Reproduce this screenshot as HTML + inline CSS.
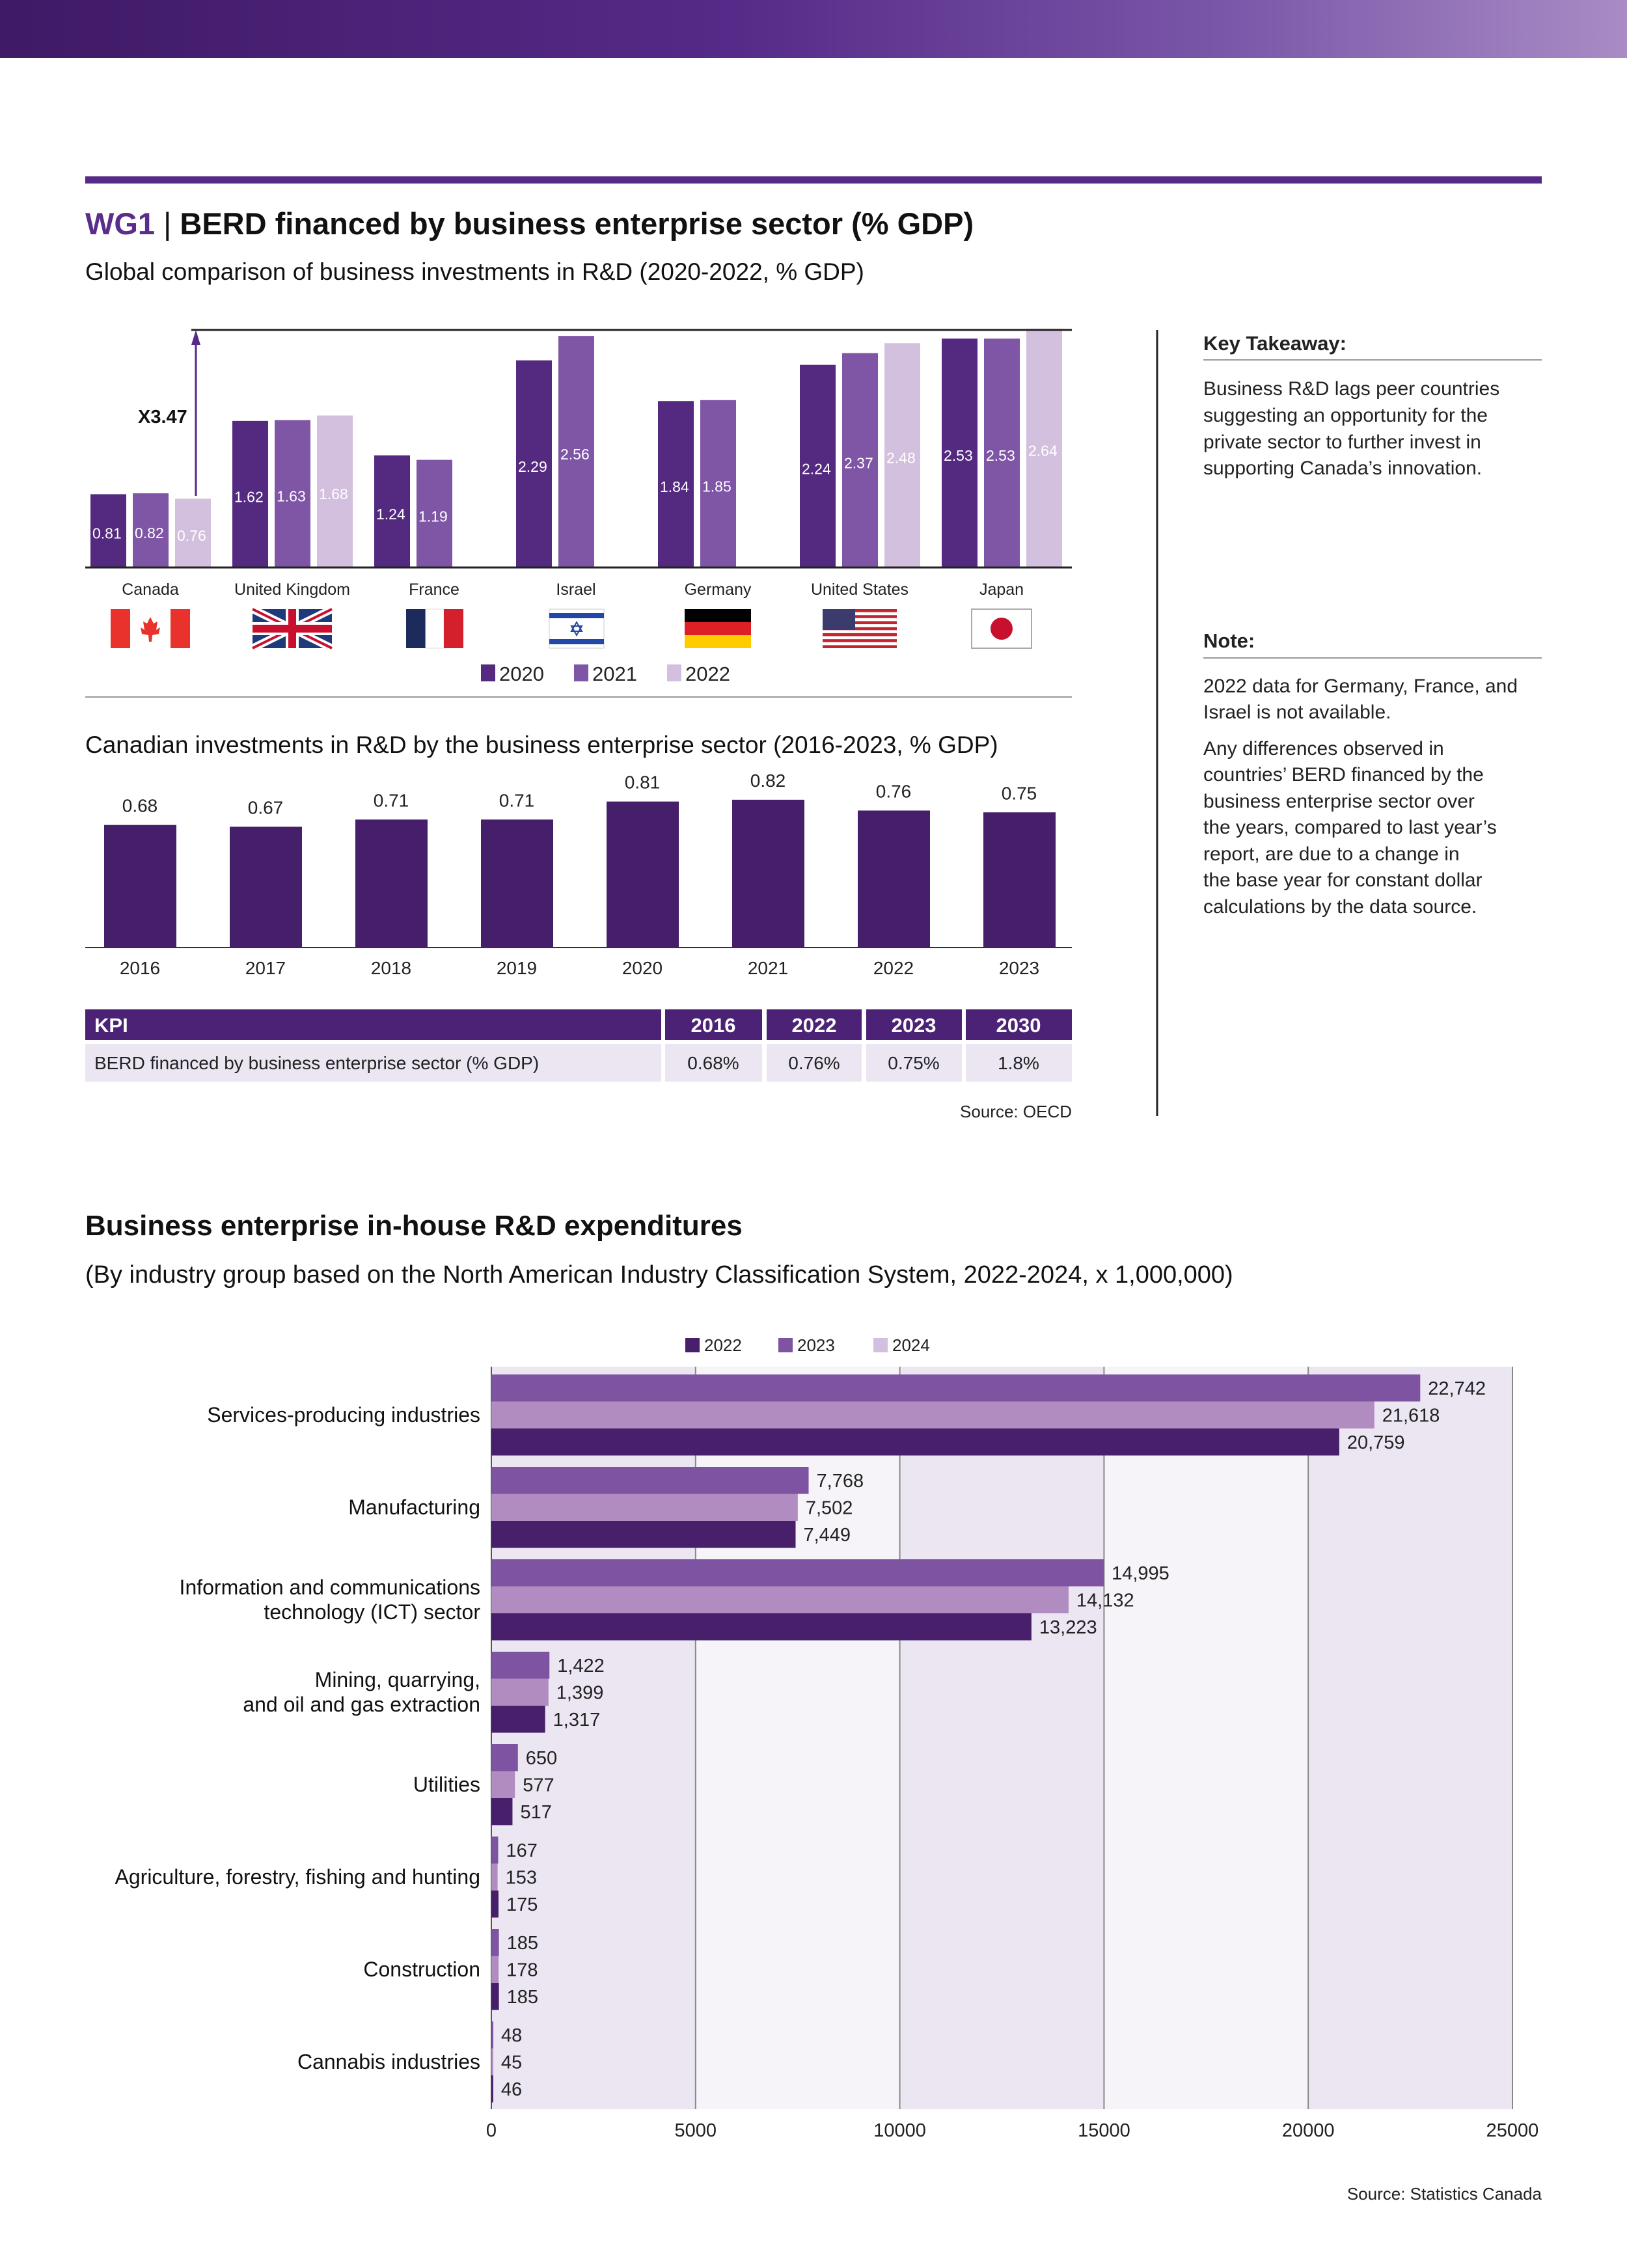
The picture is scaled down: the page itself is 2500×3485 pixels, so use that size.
<!DOCTYPE html>
<html><head><meta charset="utf-8"><style>
html,body{margin:0;padding:0;background:#fff;}
svg{display:block;font-family:"Liberation Sans",sans-serif;}
</style></head><body>
<svg id="s" width="2500" height="3485" viewBox="0 0 2500 3485" xmlns="http://www.w3.org/2000/svg">
<defs><linearGradient id="g" x1="0" x2="1" y1="0" y2="0">
<stop offset="0" stop-color="#3f1a66"/><stop offset="0.45" stop-color="#552a88"/><stop offset="0.75" stop-color="#7a56a8"/><stop offset="1" stop-color="#a98bc5"/></linearGradient></defs>
<rect x="0" y="0" width="2500" height="89" fill="url(#g)"/>
<rect x="131" y="271" width="2238" height="11" fill="#552a88"/>
<text x="131" y="360" font-size="47" font-weight="bold"><tspan fill="#5a2d8a">WG1</tspan><tspan fill="#111" font-weight="normal"> | </tspan><tspan fill="#111">BERD financed by business enterprise sector (% GDP)</tspan></text>
<text x="131" y="430" font-size="37" fill="#111">Global comparison of business investments in R&amp;D (2020-2022, % GDP)</text>
<g id="top"></g>
<line x1="131" y1="1071" x2="1647" y2="1071" stroke="#999" stroke-width="2"/>
<text x="131" y="1157" font-size="37" fill="#111">Canadian investments in R&amp;D by the business enterprise sector (2016-2023, % GDP)</text>
<g id="can"></g>
<g>
<rect x="131" y="1551" width="885" height="47" fill="#4b2275"/>
<rect x="1022" y="1551" width="149" height="47" fill="#4b2275"/>
<rect x="1178" y="1551" width="146" height="47" fill="#4b2275"/>
<rect x="1331" y="1551" width="147" height="47" fill="#4b2275"/>
<rect x="1484" y="1551" width="163" height="47" fill="#4b2275"/>
<text x="145" y="1586" font-size="31" font-weight="bold" fill="#fff">KPI</text>
<text x="1096" y="1586" font-size="31" font-weight="bold" fill="#fff" text-anchor="middle">2016</text>
<text x="1251" y="1586" font-size="31" font-weight="bold" fill="#fff" text-anchor="middle">2022</text>
<text x="1404" y="1586" font-size="31" font-weight="bold" fill="#fff" text-anchor="middle">2023</text>
<text x="1565" y="1586" font-size="31" font-weight="bold" fill="#fff" text-anchor="middle">2030</text>
<rect x="131" y="1604" width="885" height="58" fill="#ece6f2"/>
<rect x="1022" y="1604" width="149" height="58" fill="#ece6f2"/>
<rect x="1178" y="1604" width="146" height="58" fill="#ece6f2"/>
<rect x="1331" y="1604" width="147" height="58" fill="#ece6f2"/>
<rect x="1484" y="1604" width="163" height="58" fill="#ece6f2"/>
<text x="145" y="1643" font-size="28" fill="#222">BERD financed by business enterprise sector (% GDP)</text>
<text x="1096" y="1643" font-size="28" fill="#222" text-anchor="middle">0.68%</text>
<text x="1251" y="1643" font-size="28" fill="#222" text-anchor="middle">0.76%</text>
<text x="1404" y="1643" font-size="28" fill="#222" text-anchor="middle">0.75%</text>
<text x="1565" y="1643" font-size="28" fill="#222" text-anchor="middle">1.8%</text>
</g>
<text x="1647" y="1717" font-size="26" fill="#222" text-anchor="end">Source: OECD</text>
<line x1="1778" y1="507" x2="1778" y2="1715" stroke="#222" stroke-width="3"/>
<g font-size="30" fill="#222">
<text x="1849" y="538" font-weight="bold" font-size="31">Key Takeaway:</text>
<line x1="1849" y1="553" x2="2369" y2="553" stroke="#999" stroke-width="2"/>
<text x="1849" y="607">Business R&amp;D lags peer countries</text>
<text x="1849" y="648">suggesting an opportunity for the</text>
<text x="1849" y="689">private sector to further invest in</text>
<text x="1849" y="729">supporting Canada’s innovation.</text>
</g>
<g font-size="30" fill="#222">
<text x="1849" y="995" font-weight="bold" font-size="31">Note:</text>
<line x1="1849" y1="1011" x2="2369" y2="1011" stroke="#999" stroke-width="2"/>
<text x="1849" y="1064">2022 data for Germany, France, and</text>
<text x="1849" y="1104">Israel is not available.</text>
<text x="1849" y="1160">Any differences observed in</text>
<text x="1849" y="1200">countries’ BERD financed by the</text>
<text x="1849" y="1241">business enterprise sector over</text>
<text x="1849" y="1281">the years, compared to last year’s</text>
<text x="1849" y="1322">report, are due to a change in</text>
<text x="1849" y="1362">the base year for constant dollar</text>
<text x="1849" y="1403">calculations by the data source.</text>
</g>
<text x="131" y="1898" font-size="44" font-weight="bold" fill="#111">Business enterprise in-house R&amp;D expenditures</text>
<text x="131" y="1971" font-size="38" fill="#111">(By industry group based on the North American Industry Classification System, 2022-2024, x 1,000,000)</text>
<g id="ind"></g>
<text x="2369" y="3380" font-size="26" fill="#222" text-anchor="end">Source: Statistics Canada</text>
</svg>
<script>
// ---- Top chart data
const countries = ["Canada","United Kingdom","France","Israel","Germany","United States","Japan"];
const v2020 = [0.81,1.62,1.24,2.29,1.84,2.24,2.53];
const v2021 = [0.82,1.63,1.19,2.56,1.85,2.37,2.53];
const v2022 = [0.76,1.68,null,null,null,2.48,2.64];
// ---- Canada chart data
const canYears = ["2016","2017","2018","2019","2020","2021","2022","2023"];
const canVals = [0.68,0.67,0.71,0.71,0.81,0.82,0.76,0.75];
// ---- Industry chart data
const industries = ["Services-producing industries","Manufacturing","Information and communications|technology (ICT) sector","Mining, quarrying,|and oil and gas extraction","Utilities","Agriculture, forestry, fishing and hunting","Construction","Cannabis industries"];
const ind2024 = [22742,7768,14995,1422,650,167,185,48];
const ind2023 = [21618,7502,14132,1399,577,153,178,45];
const ind2022 = [20759,7449,13223,1317,517,175,185,46];
const indTicks = [0,5000,10000,15000,20000,25000];

const NS="http://www.w3.org/2000/svg";
function mk(parent,tag,attrs,txt){const e=document.createElementNS(NS,tag);for(const k in attrs)e.setAttribute(k,attrs[k]);if(txt!==undefined)e.textContent=txt;parent.appendChild(e);return e;}
function fmt(n){return n.toLocaleString('en-US');}

function drawFlag(g,c){
  const W=122,H=60;
  if(c==="Canada"){mk(g,'rect',{width:W,height:H,fill:'#fff'});mk(g,'rect',{width:30,height:H,fill:'#e8322b'});mk(g,'rect',{x:92,width:30,height:H,fill:'#e8322b'});mk(g,'polygon',{points:'61,12 66,22 72,19 70,32 76,28 74,38 64,40 63,50 59,50 58,40 48,38 46,28 52,32 50,19 56,22',fill:'#e8322b'});}
  else if(c==="United Kingdom"){mk(g,'rect',{width:W,height:H,fill:'#1f3a7a'});mk(g,'line',{x1:0,y1:0,x2:W,y2:H,stroke:'#fff','stroke-width':12});mk(g,'line',{x1:W,y1:0,x2:0,y2:H,stroke:'#fff','stroke-width':12});mk(g,'line',{x1:0,y1:0,x2:W,y2:H,stroke:'#c8102e','stroke-width':4});mk(g,'line',{x1:W,y1:0,x2:0,y2:H,stroke:'#c8102e','stroke-width':4});mk(g,'rect',{x:51,width:20,height:H,fill:'#fff'});mk(g,'rect',{y:20,width:W,height:20,fill:'#fff'});mk(g,'rect',{x:55,width:12,height:H,fill:'#c8102e'});mk(g,'rect',{y:24,width:W,height:12,fill:'#c8102e'});}
  else if(c==="France"){mk(g,'rect',{x:18,width:30,height:H,fill:'#1c2a5c'});mk(g,'rect',{x:48,width:28,height:H,fill:'#fff',stroke:'#ddd'});mk(g,'rect',{x:76,width:30,height:H,fill:'#d4202c'});}
  else if(c==="Israel"){mk(g,'rect',{x:20,width:84,height:H,fill:'#fff',stroke:'#ccc'});mk(g,'rect',{x:20,y:6,width:84,height:8,fill:'#2347a6'});mk(g,'rect',{x:20,y:46,width:84,height:8,fill:'#2347a6'});mk(g,'polygon',{points:'62,20 70,34 54,34',fill:'none',stroke:'#2347a6','stroke-width':2});mk(g,'polygon',{points:'62,40 70,26 54,26',fill:'none',stroke:'#2347a6','stroke-width':2});}
  else if(c==="Germany"){mk(g,'rect',{x:10,width:102,height:20,fill:'#000'});mk(g,'rect',{x:10,y:20,width:102,height:20,fill:'#dd1f26'});mk(g,'rect',{x:10,y:40,width:102,height:20,fill:'#ffcc00'});}
  else if(c==="United States"){mk(g,'rect',{x:4,width:114,height:H,fill:'#fff'});for(let k=0;k<7;k++)mk(g,'rect',{x:4,y:k*60/6.5,width:114,height:4.6,fill:'#c4242f'});mk(g,'rect',{x:4,width:50,height:32,fill:'#3c3b6e'});}
  else if(c==="Japan"){mk(g,'rect',{x:15,width:92,height:H,fill:'#fff',stroke:'#aaa','stroke-width':2});mk(g,'circle',{cx:61,cy:30,r:17,fill:'#c8102e'});}
}

// ---- Top chart
const topG=document.getElementById('top');
const base=872, unit=139;
const yT=v=>base-v*unit;
const series=[v2020,v2021,v2022], cols=["#542a80","#7f55a5","#d3c0de"];
countries.forEach((c,i)=>{
  const gx=139+i*218;
  series.forEach((s,j)=>{
    const v=s[i]; if(v==null) return;
    const x=gx+j*65;
    const r=mk(topG,'rect',{x:x,y:yT(v),width:55,height:base-yT(v),fill:cols[j]});
    
    
    const t=mk(topG,'text',{x:x+3,y:(yT(v)+base)/2+12,'font-size':23,fill:'#fff'},String(v));
    
    
  });
  const cx=gx+92;
  const l=mk(topG,'text',{x:cx,y:914,'font-size':25,fill:'#222','text-anchor':'middle'},c);
  
  
  const f=mk(topG,'g',{transform:'translate('+(cx-61)+',936)'});
  
  
  drawFlag(f,c);
});
mk(topG,'line',{x1:131,y1:base,x2:1647,y2:base,stroke:'#222','stroke-width':3});
mk(topG,'line',{x1:294,y1:507,x2:1647,y2:507,stroke:'#222','stroke-width':3});
mk(topG,'line',{x1:301,y1:762,x2:301,y2:520,stroke:'#552a88','stroke-width':3});
mk(topG,'polygon',{points:'294,530 301,507 308,530',fill:'#552a88'});
const x347=mk(topG,'text',{x:212,y:650,'font-size':29,'font-weight':'bold',fill:'#111'},'X3.47');


[["2020",739],["2021",882],["2022",1025]].forEach((d,j)=>{
  const r=mk(topG,'rect',{x:d[1],y:1021,width:22,height:26,fill:cols[j]});
  
  
  const t=mk(topG,'text',{x:d[1]+28,y:1046,'font-size':31,fill:'#222'},d[0]);
  
  
});

// ---- Canada chart
const can=document.getElementById('can');
const cb=1456, cu=277;
canYears.forEach((y,i)=>{
  const x=160+i*193, v=canVals[i], yy=cb-v*cu;
  const r=mk(can,'rect',{x:x,y:yy,width:111,height:cb-yy,fill:'#461f6b'});
  
  
  const t=mk(can,'text',{x:x+55,y:yy-20,'font-size':28,fill:'#222','text-anchor':'middle'},String(v));
  
  
  const l=mk(can,'text',{x:x+55,y:1497,'font-size':28,fill:'#222','text-anchor':'middle'},y);
  
  
});
mk(can,'line',{x1:131,y1:cb,x2:1647,y2:cb,stroke:'#333','stroke-width':2});

// ---- Industry chart
const ind=document.getElementById('ind');
const x0=755, xs=(2324-755)/25000, pTop=2100, pBot=3241;
const xI=v=>x0+v*xs;
const bandCols=["#ece6f2","#f6f4f9"];
for(let k=0;k<indTicks.length-1;k++){
  const b=mk(ind,'rect',{x:xI(indTicks[k]),y:pTop,width:xI(indTicks[k+1])-xI(indTicks[k]),height:pBot-pTop,fill:bandCols[k%2]});
  
  
}
indTicks.forEach(t=>{
  mk(ind,'line',{x1:xI(t),y1:pTop,x2:xI(t),y2:pBot,stroke:t===0?'#555':'#888','stroke-width':2});
  const l=mk(ind,'text',{x:xI(t),y:3283,'font-size':29,fill:'#222','text-anchor':'middle'},String(t));
  
  
});
const iser=[ind2024,ind2023,ind2022], icol=["#7d53a2","#b08cc0","#471f6b"];
industries.forEach((name,i)=>{
  const gy=2112+i*142;
  iser.forEach((s,j)=>{
    const y=gy+j*41.5, v=s[i];
    const r=mk(ind,'rect',{x:x0,y:y,width:Math.max(2,xI(v)-x0),height:41.5,fill:icol[j]});
    
    
    const t=mk(ind,'text',{x:Math.max(xI(v),x0+2)+12,y:y+31,'font-size':29,fill:'#222'},fmt(v));
    
    
  });
  const parts=name.split('|'), cy=gy+62;
  parts.forEach((p,k)=>{
    const t=mk(ind,'text',{x:738,y:cy+11+(k-(parts.length-1)/2)*38,'font-size':32,fill:'#111','text-anchor':'end'},p);
    
    
  });
});
[["2022",1053,"#471f6b"],["2023",1196,"#7d53a2"],["2024",1342,"#d3c0de"]].forEach(d=>{
  const r=mk(ind,'rect',{x:d[1],y:2056,width:22,height:22,fill:d[2]});
  
  
  const t=mk(ind,'text',{x:d[1]+29,y:2076,'font-size':26,fill:'#222'},d[0]);
  
  
});
</script>
</body></html>
